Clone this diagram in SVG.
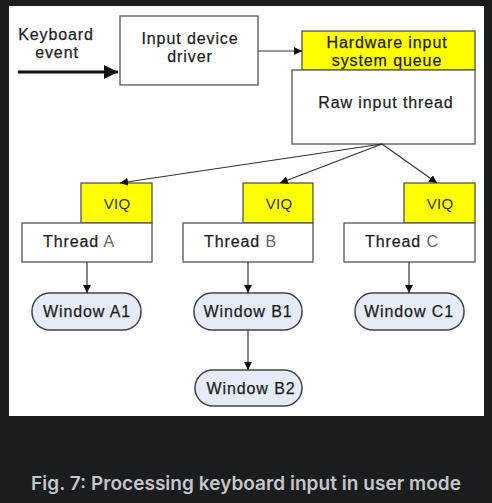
<svg xmlns="http://www.w3.org/2000/svg" width="492" height="503" viewBox="0 0 492 503">
<defs>
<style>
.t{font-family:"Liberation Sans",Arial,sans-serif;font-size:16px;letter-spacing:0.9px;fill:#1e1e1e;stroke:#1e1e1e;stroke-width:0.25px;text-anchor:middle}
.v{font-size:15px;fill:#333;stroke:none;letter-spacing:0.3px}
.box{fill:#fff;stroke:#555;stroke-width:1.3}
.yel{fill:#ffff00;stroke:#555;stroke-width:1.3}
.win{fill:#e6ecf7;stroke:#444;stroke-width:1.5}
.ln{stroke:#333;stroke-width:1.2;fill:none}
.cap{font-family:Inter,"Noto Sans",sans-serif;font-size:19px;font-weight:600;fill:#c4c6c9;text-anchor:middle}
</style>
<marker id="ah" viewBox="0 0 10 10" refX="10" refY="5" markerWidth="8" markerHeight="8" markerUnits="userSpaceOnUse" orient="auto">
<path d="M0,0 L10,5 L0,10 z" fill="#111"/>
</marker>
<marker id="ahb" viewBox="0 0 10 10" refX="10" refY="5" markerWidth="16" markerHeight="14" markerUnits="userSpaceOnUse" orient="auto">
<path d="M0,0 L10,5 L0,10 z" fill="#111"/>
</marker>
</defs>
<rect x="0" y="0" width="492" height="503" fill="#1b1c1e"/>
<rect x="9" y="6" width="475" height="410" fill="#fff"/>
<g id="keyboard-event">
<text class="t" x="56" y="40">Keyboard</text>
<text class="t" x="57" y="58">event</text>
</g>
<g id="input-device-driver">
<rect class="box" x="120" y="16" width="138" height="69"/>
<text class="t" x="190" y="44">Input device</text>
<text class="t" x="190" y="62">driver</text>
</g>
<g id="hardware-queue">
<rect class="yel" x="302" y="31" width="173" height="39"/>
<text class="t" x="387" y="48">Hardware input</text>
<text class="t" x="387" y="66">system queue</text>
</g>
<g id="raw-input-thread">
<rect class="box" x="292" y="70" width="183" height="74"/>
<text class="t" x="386" y="108">Raw input thread</text>
</g>
<g id="thread-a">
<rect class="yel" x="81" y="183" width="71" height="40"/>
<text class="t v" x="117" y="209">VIQ</text>
<rect class="box" x="22" y="223" width="130" height="39"/>
<text class="t" x="43" y="247" style="text-anchor:start">Thread <tspan fill="#666" stroke="none">A</tspan></text>
</g>
<g id="thread-b">
<rect class="yel" x="243" y="183" width="70" height="40"/>
<text class="t v" x="279" y="209">VIQ</text>
<rect class="box" x="183" y="223" width="130" height="39"/>
<text class="t" x="204" y="247" style="text-anchor:start">Thread <tspan fill="#666" stroke="none">B</tspan></text>
</g>
<g id="thread-c">
<rect class="yel" x="404" y="183" width="71" height="40"/>
<text class="t v" x="440" y="209">VIQ</text>
<rect class="box" x="344" y="223" width="131" height="39"/>
<text class="t" x="365" y="247" style="text-anchor:start">Thread <tspan fill="#666" stroke="none">C</tspan></text>
</g>
<g id="window-a1">
<rect class="win" x="32" y="293" width="109" height="37" rx="18"/>
<text class="t" x="87" y="317">Window A1</text>
</g>
<g id="window-b1">
<rect class="win" x="194" y="293" width="108" height="37" rx="18"/>
<text class="t" x="248" y="317">Window B1</text>
</g>
<g id="window-c1">
<rect class="win" x="355" y="293" width="109" height="37" rx="18"/>
<text class="t" x="409" y="317">Window C1</text>
</g>
<g id="window-b2">
<rect class="win" x="195" y="370" width="107" height="36" rx="18"/>
<text class="t" x="251" y="394">Window B2</text>
</g>
<g id="connectors">
<line x1="18" y1="72" x2="118" y2="72" stroke="#111" stroke-width="3" marker-end="url(#ahb)"/>
<line class="ln" x1="258" y1="51" x2="302" y2="51" marker-end="url(#ah)"/>
<line class="ln" x1="382" y1="144" x2="120" y2="183" marker-end="url(#ah)"/>
<line class="ln" x1="382" y1="144" x2="280" y2="183" marker-end="url(#ah)"/>
<line class="ln" x1="382" y1="144" x2="437" y2="183" marker-end="url(#ah)"/>
<line class="ln" x1="87" y1="262" x2="87" y2="293" marker-end="url(#ah)"/>
<line class="ln" x1="248" y1="262" x2="248" y2="293" marker-end="url(#ah)"/>
<line class="ln" x1="409" y1="262" x2="409" y2="293" marker-end="url(#ah)"/>
<line class="ln" x1="248" y1="330" x2="248" y2="370" marker-end="url(#ah)"/>
</g>
<text class="cap" x="246" y="490" textLength="430" lengthAdjust="spacing">Fig. 7: Processing keyboard input in user mode</text>
</svg>
